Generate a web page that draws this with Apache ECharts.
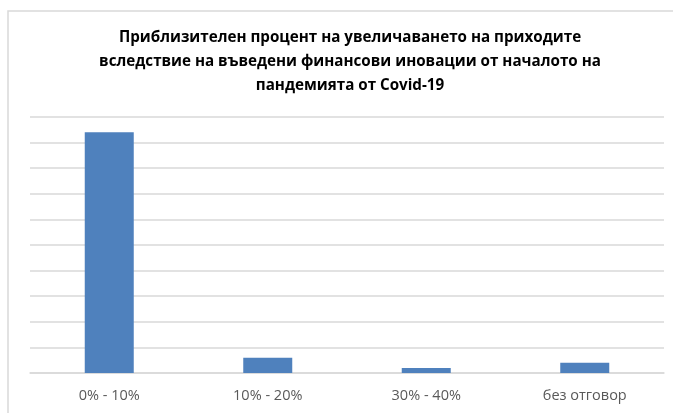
<!DOCTYPE html>
<html>
<head>
<meta charset="utf-8">
<script src="https://cdn.jsdelivr.net/npm/echarts@6/dist/echarts.min.js"></script>
<style>
  html, body { margin: 0; padding: 0; background: #ffffff; }
  #chart { width: 673px; height: 413px; }
</style>
</head>
<body>
<div id="chart"></div>
<script>
// Response categories and number of answers
const categories = ['0% - 10%', '10% - 20%', '30% - 40%', 'без отговор'];
const answers = [47, 3, 1, 2];
const titleLines = [
  'Приблизителен процент на увеличаването на приходите',
  'вследствие на въведени финансови иновации от началото на',
  'пандемията от Covid-19'
];

const chart = echarts.init(document.getElementById('chart'), null, { renderer: 'canvas' });
const face = '"Open Sans", "Noto Sans", sans-serif';

chart.setOption({
  animation: false,
  backgroundColor: '#ffffff',
  graphic: [{
    type: 'rect',
    shape: { x: 8, y: 11, width: 720, height: 460 },
    style: { fill: 'none', stroke: '#d9d9d9', lineWidth: 1.5 },
    silent: true,
    z: -1
  }],
  title: {
    text: titleLines.join('\n'),
    left: 345,
    top: 21,
    textAlign: 'center',
    textStyle: {
      fontFamily: face,
      fontSize: 15.2,
      fontWeight: 'bold',
      color: '#000000',
      lineHeight: 24
    }
  },
  grid: { left: 30, right: 9, top: 117, bottom: 40, containLabel: false },
  xAxis: {
    type: 'category',
    data: categories,
    axisLine: { show: true, lineStyle: { color: '#d9d9d9', width: 1.5 } },
    axisTick: { show: false },
    axisLabel: {
      color: '#595959',
      fontFamily: face,
      fontSize: 14.5,
      margin: 15
    }
  },
  yAxis: {
    type: 'value',
    min: 0,
    max: 50,
    interval: 5,
    axisLine: { show: false },
    axisTick: { show: false },
    axisLabel: { show: false },
    splitLine: { show: true, lineStyle: { color: '#d9d9d9', width: 1.5 } }
  },
  series: [{
    type: 'bar',
    data: answers,
    barWidth: 49,
    itemStyle: { color: '#4f81bd' }
  }]
});
</script>
</body>
</html>
